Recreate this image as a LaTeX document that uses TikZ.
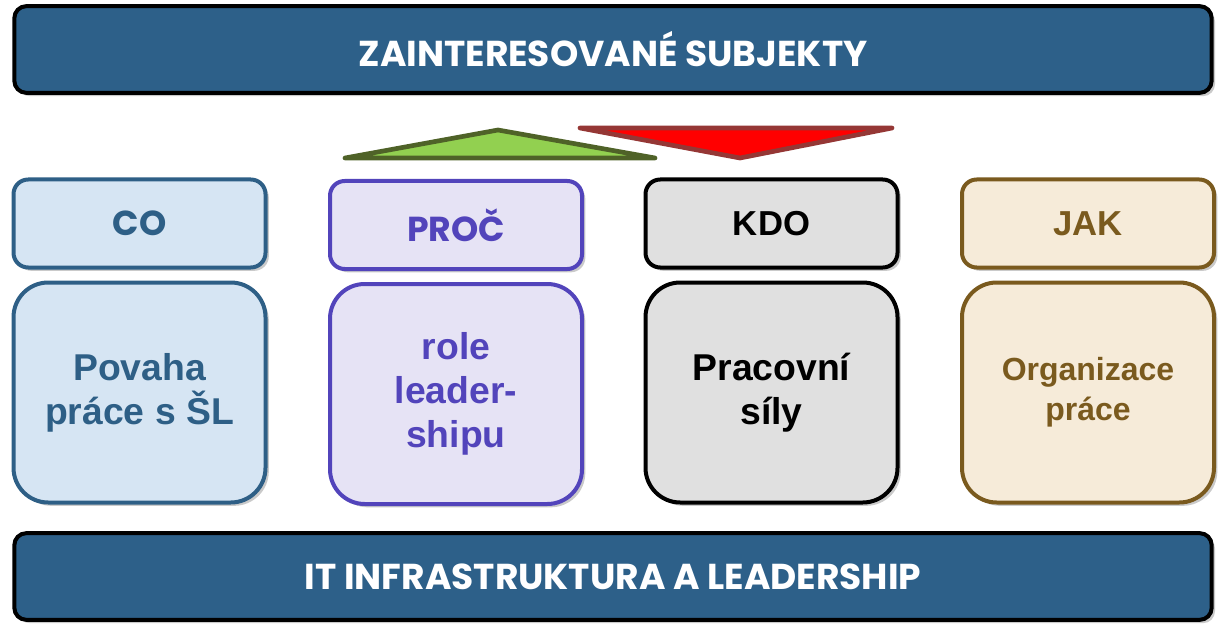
\documentclass[tikz,border=0pt]{standalone}
\usepackage{fontspec}
\setmainfont{Liberation Sans}
\newfontfamily\headfont{Poppins}
\usetikzlibrary{shadows}
\definecolor{barBlue}{HTML}{2D6089}
\definecolor{coLine}{HTML}{2E5F86}
\definecolor{coFill}{HTML}{D6E5F3}
\definecolor{procLine}{HTML}{5244BB}
\definecolor{procFill}{HTML}{E6E3F5}
\definecolor{kdoFill}{HTML}{E0E0E0}
\definecolor{jakLine}{HTML}{7A5A1E}
\definecolor{jakFill}{HTML}{F6EBD9}
\definecolor{upGreen}{HTML}{92D050}
\definecolor{upOlive}{HTML}{4F6228}
\definecolor{downRed}{HTML}{FF0000}
\definecolor{downLine}{HTML}{953735}

\begin{document}
\begin{tikzpicture}[x=0.75pt, y=-0.75pt,
  shade/.style={drop shadow={shadow xshift=2.5pt, shadow yshift=-2.5pt, opacity=0.35, fill=black!60}},
  bar/.style={shade, fill=barBlue, draw=black, line width=3pt, rounded corners=9pt, minimum width=898pt, minimum height=65pt, text=white, font=\headfont\bfseries\fontsize{27}{30}\selectfont},
  headbox/.style={shade, line width=3pt, rounded corners=11pt, minimum width=189pt, minimum height=66pt, font=\headfont\bfseries\fontsize{26}{28}\selectfont},
  plainhead/.style={font=\bfseries\fontsize{26}{28}\selectfont},
  bodybox/.style={shade, line width=3pt, rounded corners=26pt, minimum width=189pt, minimum height=165pt, align=center, font=\bfseries\fontsize{28}{33}\selectfont},
]
  \useasboundingbox (0,0) rectangle (1220,624);

  % bars
  \node[bar] (top) at (613, 49.5) {ZAINTERESOVANÉ SUBJEKTY};
  \node[bar] (bottom) at (613, 576.5) {IT INFRASTRUKTURA A LEADERSHIP};

  % triangles
  \draw[fill=upGreen, draw=upOlive, line width=3.5pt, line join=round] (345,158) -- (498,130) -- (655,158) -- cycle;
  \draw[fill=downRed, draw=downLine, line width=3.5pt, line join=round] (580,128) -- (892,128) -- (740,158) -- cycle;

  % headings
  \node[headbox, fill=coFill, draw=coLine, text=coLine] (coHead) at (139.5, 223.5) {CO};
  \node[headbox, fill=procFill, draw=procLine, text=procLine] (procHead) at (456, 225) {PROČ};
  \node[headbox, plainhead, fill=kdoFill, draw=black, text=black] (kdoHead) at (771.5, 223.5) {KDO};
  \node[headbox, plainhead, fill=jakFill, draw=jakLine, text=jakLine] (jakHead) at (1088, 223.5) {JAK};

  % bodies
  \node[bodybox, fill=coFill, draw=coLine, text=coLine] (coBody) at (139.5, 392.5) {Povaha\\práce s ŠL};
  \node[bodybox, fill=procFill, draw=procLine, text=procLine] (procBody) at (456, 394) {role\\leader-\\shipu};
  \node[bodybox, fill=kdoFill, draw=black, text=black] (kdoBody) at (771.5, 392.5) {Pracovní\\síly};
  \node[bodybox, fill=jakFill, draw=jakLine, text=jakLine, font=\bfseries\fontsize{24}{30}\selectfont] (jakBody) at (1088, 392.5) {Organizace\\práce};
\end{tikzpicture}
\end{document}
